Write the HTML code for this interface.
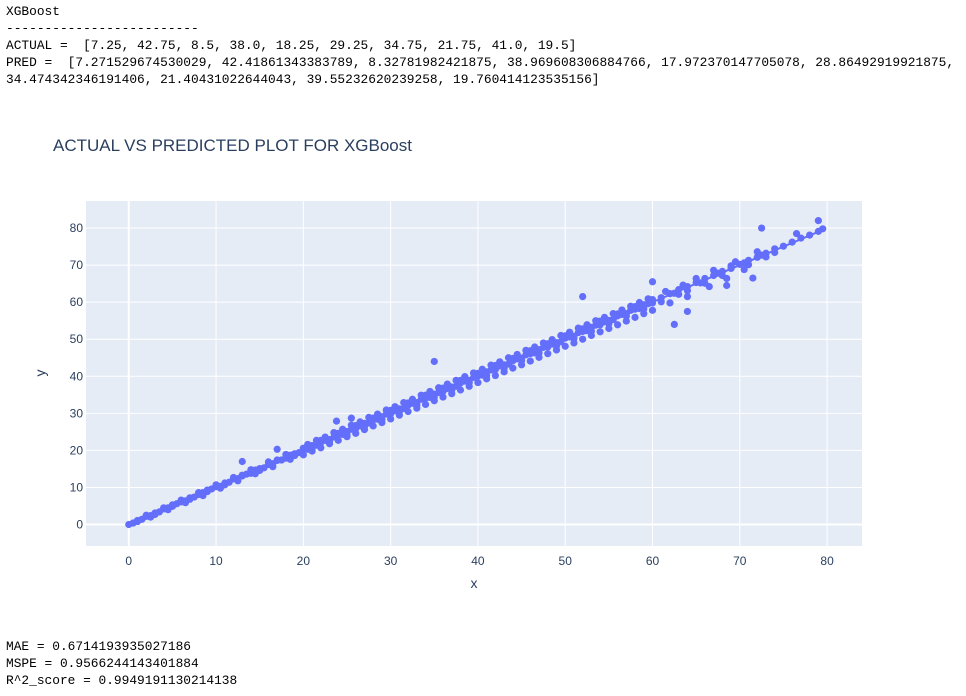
<!DOCTYPE html>
<html><head><meta charset="utf-8">
<style>
body{margin:0;background:#fff;width:966px;height:696px;overflow:hidden;position:relative;font-family:"Liberation Sans",sans-serif}
.mono{position:absolute;left:6px;font-family:"Liberation Mono",monospace;font-size:12.85px;line-height:17px;color:#000;white-space:pre;margin:0}
svg{position:absolute;left:0;top:0}
</style></head><body>
<pre class="mono" style="top:3px">XGBoost
-------------------------
ACTUAL =  [7.25, 42.75, 8.5, 38.0, 18.25, 29.25, 34.75, 21.75, 41.0, 19.5]
PRED =  [7.271529674530029, 42.41861343383789, 8.32781982421875, 38.969608306884766, 17.972370147705078, 28.86492919921875,
34.474342346191406, 21.40431022644043, 39.55232620239258, 19.760414123535156]</pre>
<svg id="chart" width="966" height="696"></svg>
<pre class="mono" style="top:638px">MAE = 0.6714193935027186
MSPE = 0.9566244143401884
R^2_score = 0.9949191130214138</pre>
<script>
const xTicks=[0,10,20,30,40,50,60,70,80];
const yTicks=[0,10,20,30,40,50,60,70,80];
const actualA=[0,0.5,1,1.5,2,2.5,3,3.5,4,4.5,5,5.5,6,6.5,7,7.5,8,8.5,9,9.5,10,10.5,11,11.5,12,12.5,13,13.5,14,14.5,15,15.5,16,16.5,17,17.5,18,18.5,19,19.5,20,20.5,21,21.5,22,22.5,23,23.5,24,24.5,25,25.5,26,26.5,27,27.5,28,28.5,29,29.5,30,30.5,31,31.5,32,32.5,33,33.5,34,34.5,35,35.5,36,36.5,37,37.5,38,38.5,39,39.5,40,40.5,41,41.5,42,42.5,43,43.5,44,44.5,45,45.5,46,46.5,47,47.5,48,48.5,49,49.5,50,50.5,51,51.5,52,52.5,53,53.5,54,54.5,55,55.5,56,56.5,57,57.5,58,58.5,59,59.5,60,61,62,62.5,63,64,65,65.5,66,67,67.5,68,69,70,70.5,71,72,72.5,73,74,75,76,77,78,79,79.5];
const predA=[0,0.4,1.1,1.4,2.2,2.4,3.1,3.4,4.2,4.5,4.9,5.6,6.1,6.4,7.2,7.4,8.1,8.6,8.9,9.6,10.2,10.3,11.2,11.4,12.3,12.4,13.1,13.6,13.8,14.7,15.1,15.3,16.2,16.4,17.3,17.4,17.9,18.7,19.1,19.4,20.2,20.3,21.3,21.4,22.1,22.7,22.9,23.6,24.2,24.3,25.1,25.7,25.9,26.6,27.3,27.4,28.2,28.4,29.1,29.8,29.9,30.7,31.2,31.3,32.2,32.7,32.9,33.8,34.1,34.3,35.2,35.6,35.9,36.7,37.1,37.3,38.2,38.7,38.9,39.7,40.1,40.3,41.2,41.7,41.8,42.8,43.1,43.3,44.2,44.7,44.9,45.8,46.1,46.3,47.2,47.8,47.9,48.7,49.1,49.3,50.3,50.6,50.8,51.8,52.1,52.3,53.2,53.8,53.9,54.7,55.1,55.3,56.3,56.7,56.9,57.8,58.1,58.3,59.3,59.6,59.8,61.2,62.3,62.4,63.4,64.2,65.3,65.2,66.4,67.2,67.8,68.3,69.1,70.2,70.6,71.3,72.1,72.7,73.2,74.4,75.1,76.2,77.3,78.1,79.1,79.8];
const actualB=[1,3,5,7,9,11,13,15,17,19,20,21,22,23,24,25,26,27,28,29,30,31,32,33,34,35,36,37,38,39,40,41,42,43,44,45,46,47,48,49,50,51,52,53,54,55,56,57,58,59,60,61,63,64,66,68,69,71,73,74];
const predB=[0.8,2.7,5.3,6.8,9.3,10.7,13.3,14.6,17.4,18.6,20.6,20.5,22.7,22.4,24.6,24.4,26.7,26.4,28.7,28.3,30.8,30.4,32.8,32.3,34.9,34.4,36.8,36.3,38.9,38.3,40.8,40.2,42.9,42.2,44.8,44.2,46.9,46.3,48.8,48.2,50.9,50.2,52.8,52.2,54.9,54.2,56.8,56.2,58.8,58.2,60.7,60.1,62.1,63.1,65.1,67.2,69.8,70.1,72.2,73.4];
const actualC=[2,4,6,8,10,12,14,16,18,20.5,21.5,22.5,23.5,24.5,25.5,26.5,27.5,28.5,29.5,30.5,31.5,32.5,33.5,34.5,35.5,36.5,37.5,38.5,39.5,40.5,41.5,42.5,43.5,44.5,45.5,46.5,47.5,48.5,49.5,50.5,51.5,52.5,53.5,54.5,55.5,56.5,57.5,58.5,59.5,61.5,63.5,65,67,69.5,72];
const predC=[2.5,4.5,6.6,8.6,10.7,12.7,14.8,16.9,18.9,21.6,22.7,23.6,24.8,25.7,26.8,27.7,28.9,29.8,30.9,31.8,32.9,33.8,34.9,35.9,36.9,37.9,38.9,39.9,40.9,41.9,43.0,43.9,45.0,45.9,47.0,47.9,49.0,49.9,51.0,51.9,53.0,53.9,55.0,55.9,56.9,57.9,58.9,59.9,60.9,62.9,64.6,66.4,68.6,70.9,73.6];
const actualD=[2.5,4.5,6.5,8.5,10.5,12.5,14.5,16.5,18.5,20,21,22,23,24,25,26,27,28,29,30,31,32,33,34,35,36,37,38,39,40,41,42,43,44,45,46,47,48,49,50,51,52,53,54,55,56,57,58,59,60,62,64,66.5,68.5,70.5];
const predD=[2.0,4.0,5.9,7.8,9.8,11.8,13.7,15.6,17.6,18.8,19.8,20.7,21.8,22.7,23.7,24.6,25.6,26.6,27.5,28.5,29.5,30.5,31.4,32.4,33.4,34.4,35.3,36.3,37.3,38.3,39.3,40.2,41.2,42.2,43.1,44.1,45.1,46.1,47.1,48.1,49.0,50.0,51.0,52.0,52.9,53.9,54.9,55.9,56.9,57.8,59.8,61.5,64.2,66.4,68.8];
const actualOut=[13,17,23.8,25.5,35,52,60,64,72.5,79,76.5,62.5,68.5,71.5];
const predOut=[17,20.3,27.9,28.7,44,61.5,65.5,57.5,80,82,78.5,54,64.5,66.5];

const svg=document.getElementById('chart');
const NS='http://www.w3.org/2000/svg';
const L=86,R=862,T=201,B=546;
const x0=-4.9,x1=84.0,y0=-5.8,y1=87.3;
const sx=v=>L+(v-x0)/(x1-x0)*(R-L);
const sy=v=>B-(v-y0)/(y1-y0)*(B-T);
function mk(t,a){const e=document.createElementNS(NS,t);for(const k in a)e.setAttribute(k,a[k]);svg.appendChild(e);return e;}
const bg=mk('rect',{x:L,y:T,width:R-L,height:B-T,fill:'#e5ecf6'});


xTicks.forEach(v=>{
  const g=mk('line',{x1:sx(v),x2:sx(v),y1:T,y2:B,stroke:'#fff','stroke-width':v===0?2:1});
  
  
  const t=mk('text',{x:sx(v),y:B+19,'text-anchor':'middle','font-size':12,fill:'#2a3f5f'});
  t.textContent=v;
  
  
});
yTicks.forEach(v=>{
  const g=mk('line',{x1:L,x2:R,y1:sy(v),y2:sy(v),stroke:'#fff','stroke-width':v===0?2:1});
  
  
  const t=mk('text',{x:L-3,y:sy(v)+4,'text-anchor':'end','font-size':12,fill:'#2a3f5f'});
  t.textContent=v;
  
  
});
function pts(xs,ys){xs.forEach((v,i)=>{
  const c=mk('circle',{cx:sx(v),cy:sy(ys[i]),r:3.6,fill:'#636efa'});
  
  
});}
pts(actualA,predA);pts(actualB,predB);pts(actualC,predC);pts(actualD,predD);pts(actualOut,predOut);
const ln=mk('line',{x1:sx(0),y1:sy(0),x2:sx(79.5),y2:sy(79.5),stroke:'#636efa','stroke-width':2});


const ti=mk('text',{x:53,y:151,'font-size':17,fill:'#2a3f5f'});
ti.textContent='ACTUAL VS PREDICTED PLOT FOR XGBoost';


const xl=mk('text',{x:(L+R)/2,y:588,'text-anchor':'middle','font-size':14,fill:'#2a3f5f'});
xl.textContent='x';


const yl=mk('text',{x:45,y:373,'text-anchor':'middle','font-size':14,fill:'#2a3f5f',transform:'rotate(-90 45 373)'});
yl.textContent='y';


</script>
</body></html>
